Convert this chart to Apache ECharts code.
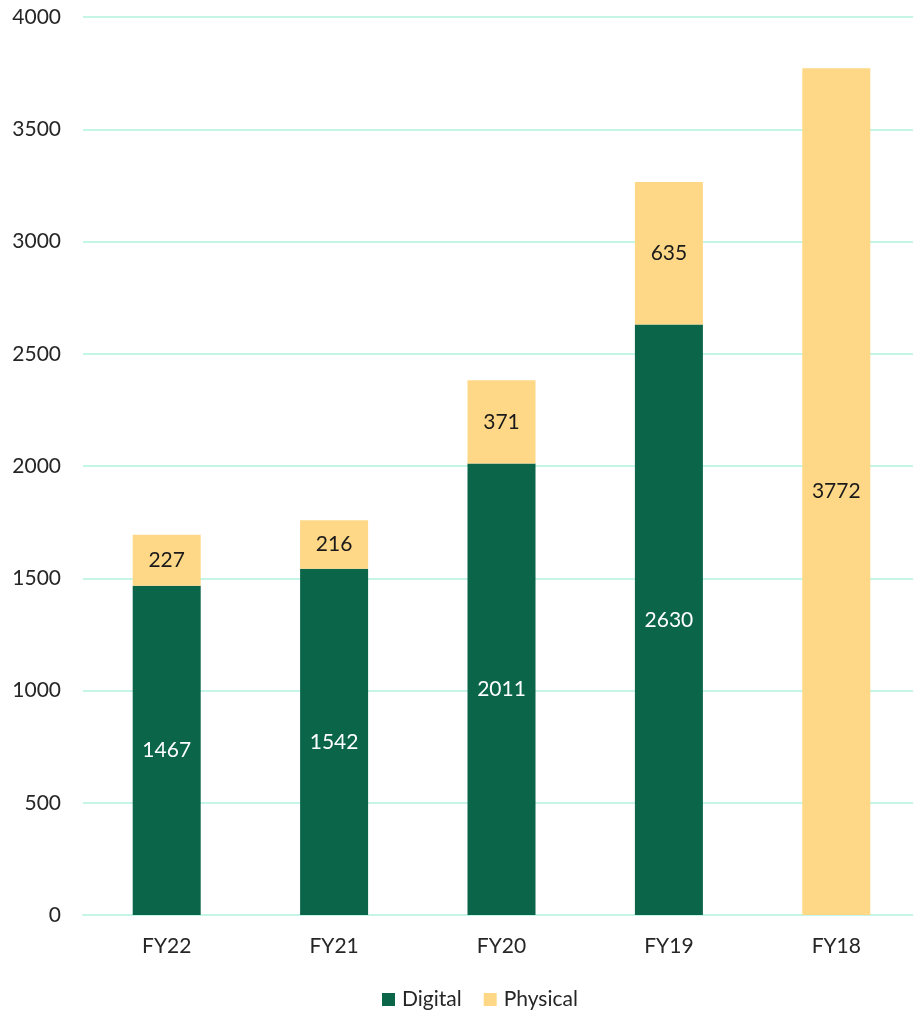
<!DOCTYPE html>
<html><head><meta charset="utf-8">
<script src="https://cdn.jsdelivr.net/npm/echarts@6/dist/echarts.min.js"></script>
<style>html,body{margin:0;padding:0;background:#fff}#c{width:913px;height:1015px}</style>
</head><body><div id="c"></div>
<script>
const categories = ['FY22','FY21','FY20','FY19','FY18'];
const digital = [1467,1542,2011,2630,0];
const physical = [227,216,371,635,3772];
const yTicks = {min:0,max:4000,interval:500};
const FONT = 'Lato, "Open Sans", sans-serif';
const FS = 21;
const chart = echarts.init(document.getElementById('c'));
chart.setOption({
  animation:false,
  textStyle:{fontFamily:FONT},
  grid:{left:83,width:837,top:17,bottom:100,outerBoundsMode:'none',containLabel:false},
  legend:{bottom:0,left:377,itemWidth:13,itemHeight:13,itemGap:22,icon:'rect',
    textStyle:{fontSize:FS,color:'#262626',fontFamily:FONT,padding:[0,0,0,2]},
    data:['Digital','Physical']},
  xAxis:{type:'category',data:categories,
    axisLine:{lineStyle:{color:'#c4f5e6',width:2}},axisTick:{show:false},
    axisLabel:{fontSize:FS,color:'#262626',margin:21,fontFamily:FONT}},
  yAxis:{type:'value',min:yTicks.min,max:yTicks.max,interval:yTicks.interval,
    axisLine:{show:false},axisTick:{show:false},
    splitLine:{lineStyle:{color:'#c4f5e6',width:2}},
    axisLabel:{fontSize:FS,color:'#262626',margin:22,fontFamily:FONT,formatter:v=>String(v)}},
  series:[
    {name:'Digital',type:'bar',stack:'s',data:digital,barWidth:68,
      itemStyle:{color:'#0a6549'},
      label:{show:true,position:'inside',color:'#ffffff',fontSize:FS,fontFamily:FONT,
        formatter:p=>p.value?String(p.value):''}},
    {name:'Physical',type:'bar',stack:'s',data:physical,barWidth:68,
      itemStyle:{color:'#fed886'},
      label:{show:true,position:'inside',color:'#1a1a1a',fontSize:FS,fontFamily:FONT,
        formatter:p=>String(p.value)}}
  ]
});
</script></body></html>
